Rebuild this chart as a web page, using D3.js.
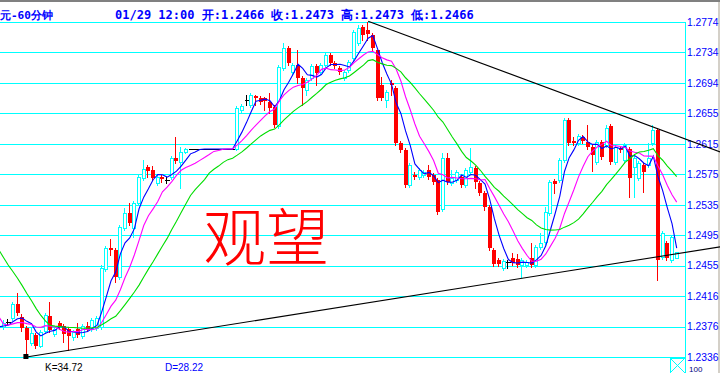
<!DOCTYPE html>
<html>
<head>
<meta charset="utf-8">
<script src="https://cdn.jsdelivr.net/npm/d3@7"></script>
<style>
body { margin: 0; background: #fff; }
svg { display: block; }
</style>
</head>
<body>
<div class="container"></div>
<script>
// 60-minute bars, oldest first (index 0 = left edge)
var opens = [
  1.2375, 1.2382, 1.2387, 1.2405, 1.2388, 1.2374, 1.2354, 1.2365, 1.2350, 1.2370,
  1.2390, 1.2366, 1.2380, 1.2377, 1.2373, 1.2362, 1.2373, 1.2363, 1.2377, 1.2373,
  1.2374, 1.2375, 1.2451, 1.2479, 1.2476, 1.2441, 1.2505, 1.2524, 1.2505, 1.2537,
  1.2570, 1.2584, 1.2580, 1.2563, 1.2571, 1.2567, 1.2571, 1.2596, 1.2591, 1.2604,
  1.2608, 1.2608, 1.2608, 1.2608, 1.2608, 1.2608, 1.2608, 1.2608, 1.2608, 1.2608,
  1.2608, 1.2659, 1.2672, 1.2665, 1.2677, 1.2675, 1.2675, 1.2669, 1.2663, 1.2638,
  1.2714, 1.2740, 1.2709, 1.2718, 1.2701, 1.2685, 1.2701, 1.2716, 1.2709, 1.2718,
  1.2731, 1.2720, 1.2714, 1.2701, 1.2711, 1.2727, 1.2747, 1.2767, 1.2764, 1.2757,
  1.2737, 1.2692, 1.2672, 1.2694, 1.2688, 1.2616, 1.2607, 1.2561, 1.2574, 1.2571,
  1.2574, 1.2580, 1.2574, 1.2567, 1.2529, 1.2596, 1.2563, 1.2567, 1.2571, 1.2561,
  1.2578, 1.2583, 1.2563, 1.2550, 1.2532, 1.2476, 1.2463, 1.2452, 1.2460, 1.2465,
  1.2464, 1.2456, 1.2456, 1.2465, 1.2456, 1.2480, 1.2486, 1.2524, 1.2566, 1.2567,
  1.2594, 1.2646, 1.2618, 1.2616, 1.2624, 1.2617, 1.2611, 1.2591, 1.2617, 1.2613,
  1.2638, 1.2591, 1.2609, 1.2594, 1.2608, 1.2584, 1.2570, 1.2587, 1.2587, 1.2616,
  1.2633, 1.2467, 1.2485, 1.2463, 1.2466
];
var highs = [
  1.2384, 1.2386, 1.2408, 1.2420, 1.2392, 1.2377, 1.2375, 1.2367, 1.2371, 1.2394,
  1.2408, 1.2375, 1.2383, 1.2379, 1.2375, 1.2371, 1.2380, 1.2379, 1.2382, 1.2387,
  1.2390, 1.2456, 1.2481, 1.2490, 1.2479, 1.2509, 1.2531, 1.2537, 1.2540, 1.2574,
  1.2594, 1.2587, 1.2586, 1.2574, 1.2574, 1.2571, 1.2599, 1.2624, 1.2611, 1.2609,
  1.2608, 1.2608, 1.2608, 1.2608, 1.2608, 1.2608, 1.2608, 1.2608, 1.2608, 1.2608,
  1.2664, 1.2667, 1.2679, 1.2681, 1.2679, 1.2677, 1.2676, 1.2681, 1.2665, 1.2718,
  1.2747, 1.2743, 1.2720, 1.2737, 1.2703, 1.2701, 1.2719, 1.2719, 1.2720, 1.2733,
  1.2733, 1.2723, 1.2716, 1.2711, 1.2724, 1.2764, 1.2770, 1.2770, 1.2774, 1.2760,
  1.2737, 1.2702, 1.2685, 1.2698, 1.2690, 1.2618, 1.2609, 1.2590, 1.2578, 1.2583,
  1.2580, 1.2587, 1.2577, 1.2570, 1.2603, 1.2603, 1.2580, 1.2580, 1.2574, 1.2583,
  1.2609, 1.2586, 1.2566, 1.2553, 1.2535, 1.2479, 1.2465, 1.2464, 1.2463, 1.2472,
  1.2471, 1.2465, 1.2463, 1.2485, 1.2482, 1.2498, 1.2532, 1.2567, 1.2569, 1.2596,
  1.2648, 1.2648, 1.2624, 1.2628, 1.2626, 1.2639, 1.2613, 1.2620, 1.2620, 1.2639,
  1.2641, 1.2613, 1.2612, 1.2616, 1.2611, 1.2599, 1.2592, 1.2590, 1.2616, 1.2639,
  1.2635, 1.2501, 1.2488, 1.2496, 1.2473
];
var lows = [
  1.2373, 1.2378, 1.2384, 1.2391, 1.2370, 1.2337, 1.2352, 1.2348, 1.2349, 1.2367,
  1.2369, 1.2363, 1.2373, 1.2356, 1.2345, 1.2358, 1.2362, 1.2361, 1.2370, 1.2370,
  1.2371, 1.2373, 1.2448, 1.2469, 1.2434, 1.2438, 1.2502, 1.2509, 1.2493, 1.2535,
  1.2567, 1.2571, 1.2567, 1.2561, 1.2565, 1.2563, 1.2569, 1.2590, 1.2557, 1.2603,
  1.2608, 1.2608, 1.2608, 1.2608, 1.2608, 1.2608, 1.2608, 1.2608, 1.2608, 1.2608,
  1.2607, 1.2656, 1.2665, 1.2663, 1.2665, 1.2667, 1.2659, 1.2655, 1.2637, 1.2635,
  1.2711, 1.2718, 1.2706, 1.2694, 1.2665, 1.2679, 1.2698, 1.2692, 1.2706, 1.2715,
  1.2718, 1.2714, 1.2706, 1.2698, 1.2709, 1.2724, 1.2744, 1.2750, 1.2750, 1.2737,
  1.2672, 1.2672, 1.2663, 1.2679, 1.2613, 1.2604, 1.2558, 1.2558, 1.2569, 1.2569,
  1.2571, 1.2569, 1.2562, 1.2523, 1.2527, 1.2562, 1.2561, 1.2565, 1.2558, 1.2558,
  1.2575, 1.2557, 1.2548, 1.2528, 1.2476, 1.2455, 1.2455, 1.2450, 1.2452, 1.2456,
  1.2454, 1.2441, 1.2454, 1.2454, 1.2454, 1.2477, 1.2484, 1.2522, 1.2550, 1.2565,
  1.2591, 1.2613, 1.2613, 1.2613, 1.2616, 1.2608, 1.2579, 1.2588, 1.2595, 1.2611,
  1.2588, 1.2588, 1.2604, 1.2591, 1.2545, 1.2545, 1.2567, 1.2552, 1.2584, 1.2613,
  1.2437, 1.2464, 1.2463, 1.2460, 1.2466
];
var closes = [
  1.2380, 1.2382, 1.2405, 1.2394, 1.2374, 1.2358, 1.2367, 1.2350, 1.2369, 1.2391,
  1.2371, 1.2373, 1.2375, 1.2366, 1.2363, 1.2369, 1.2365, 1.2377, 1.2373, 1.2384,
  1.2387, 1.2452, 1.2479, 1.2476, 1.2441, 1.2506, 1.2524, 1.2511, 1.2537, 1.2571,
  1.2582, 1.2579, 1.2570, 1.2571, 1.2569, 1.2567, 1.2596, 1.2592, 1.2604, 1.2608,
  1.2608, 1.2608, 1.2608, 1.2608, 1.2608, 1.2608, 1.2608, 1.2608, 1.2608, 1.2608,
  1.2662, 1.2664, 1.2672, 1.2679, 1.2675, 1.2669, 1.2671, 1.2662, 1.2639, 1.2715,
  1.2740, 1.2720, 1.2718, 1.2701, 1.2688, 1.2698, 1.2716, 1.2707, 1.2718, 1.2731,
  1.2720, 1.2716, 1.2709, 1.2709, 1.2722, 1.2761, 1.2766, 1.2757, 1.2758, 1.2740,
  1.2675, 1.2675, 1.2682, 1.2692, 1.2616, 1.2607, 1.2561, 1.2587, 1.2571, 1.2580,
  1.2578, 1.2571, 1.2565, 1.2526, 1.2596, 1.2565, 1.2570, 1.2578, 1.2561, 1.2580,
  1.2584, 1.2565, 1.2550, 1.2532, 1.2479, 1.2458, 1.2458, 1.2462, 1.2460, 1.2459,
  1.2456, 1.2463, 1.2460, 1.2456, 1.2480, 1.2485, 1.2526, 1.2565, 1.2562, 1.2594,
  1.2646, 1.2616, 1.2616, 1.2625, 1.2618, 1.2611, 1.2600, 1.2617, 1.2597, 1.2635,
  1.2591, 1.2611, 1.2607, 1.2613, 1.2570, 1.2596, 1.2590, 1.2578, 1.2596, 1.2633,
  1.2463, 1.2498, 1.2465, 1.2493, 1.2473
];
// closes of the 20 bars before the visible window (only feed the moving averages)
var closesBefore = [
  1.2580, 1.2578, 1.2574, 1.2570, 1.2567, 1.2563, 1.2560, 1.2554, 1.2548, 1.2541,
  1.2476, 1.2397, 1.2387, 1.2378, 1.2371, 1.2374, 1.2378, 1.2382, 1.2374, 1.2369
];

var tickValues = [1.2774, 1.27342, 1.26944, 1.26545, 1.26147, 1.25749, 1.25351, 1.24953, 1.24555, 1.24156, 1.23758, 1.2336];
var tickLabels = ['1.2774', '1.2734', '1.2694', '1.2655', '1.2615', '1.2575', '1.2535', '1.2495', '1.2455', '1.2416', '1.2376', '1.2336'];

var maPeriods = [5, 10, 20];
var maColors = ['#0000ff', '#ff00ff', '#00dd00'];

// hand-drawn trend lines: [bar index, price]
var trendUpper = [[78, 1.2775], [153.3, 1.2604]];
var trendLower = [[4.9, 1.2336], [153.3, 1.2480]];

var titleLeft = '元-60分钟';
var titleInfo = '01/29 12:00 开:1.2466 收:1.2473 高:1.2473 低:1.2466';
var bigText = '观望';

var loadChart = function () {
    const WIDTH = 720;
    const HEIGHT = 373;
    const AXIS_X = 685;

    var svg = d3.select('.container').append('svg')
        .attr('width', WIDTH)
        .attr('height', HEIGHT)
        .style('background', '#fff');

    // window frame strip on the right (under the labels)
    svg.append('rect').attr('x', 718).attr('y', 0).attr('width', 2).attr('height', HEIGHT).attr('fill', '#d4d0c8');

    var xScale = d3.scaleLinear().domain([0, closes.length - 1]).range([3.5, 676.7]);
    var yScale = d3.scaleLinear().domain([1.2336, 1.2774]).range([357, 22]);

    // grid
    var grid = svg.append('g')
        .attr('transform', 'translate(' + AXIS_X + ',0)')
        .call(d3.axisLeft(yScale).tickValues(tickValues).tickSize(AXIS_X + 1).tickFormat(''));
    grid.select('.domain').remove();
    grid.selectAll('line')
        .attr('stroke', '#00ffff')
        .attr('shape-rendering', 'crispEdges');

    svg.append('line')
        .attr('x1', AXIS_X + 0.5).attr('x2', AXIS_X + 0.5)
        .attr('y1', 22).attr('y2', HEIGHT)
        .attr('stroke', '#00ffff');

    // price labels
    var axis = svg.append('g')
        .attr('transform', 'translate(' + AXIS_X + ',0)')
        .call(d3.axisRight(yScale).tickValues(tickValues).tickSize(0).tickPadding(2)
            .tickFormat(function (d, i) { return tickLabels[i]; }));
    axis.select('.domain').remove();
    axis.selectAll('text')
        .attr('fill', '#0000ff')
        .style('font-family', '"Liberation Sans", Arial, sans-serif')
        .style('font-size', '10.3px');

    // candles
    var bars = d3.range(closes.length).map(function (i) {
        return { i: i, o: opens[i], h: highs[i], l: lows[i], c: closes[i] };
    });
    var gCandles = svg.append('g').attr('shape-rendering', 'crispEdges');
    bars.forEach(function (d) {
        var cx = Math.round(xScale(d.i));
        var yH = Math.round(yScale(d.h)), yL = Math.round(yScale(d.l));
        var yO = Math.round(yScale(d.o)), yC = Math.round(yScale(d.c));
        var wx = cx - 0.5;
        if (d.c > d.o) {
            gCandles.append('line').attr('x1', wx).attr('x2', wx).attr('y1', yH).attr('y2', yC)
                .attr('stroke', '#00ffff');
            gCandles.append('line').attr('x1', wx).attr('x2', wx).attr('y1', yO).attr('y2', yL + 1)
                .attr('stroke', '#00ffff');
            gCandles.append('rect')
                .attr('x', cx - 1.5).attr('y', yC + 0.5)
                .attr('width', 3).attr('height', Math.max(yO - yC, 1))
                .attr('fill', '#fff').attr('stroke', '#00ffff');
        } else if (d.c < d.o) {
            gCandles.append('line').attr('x1', wx).attr('x2', wx).attr('y1', yH).attr('y2', yL + 1)
                .attr('stroke', '#ff0000');
            gCandles.append('rect')
                .attr('x', cx - 2).attr('y', yO)
                .attr('width', 4).attr('height', Math.max(yC - yO, 1))
                .attr('fill', '#ff0000');
        } else {
            gCandles.append('line').attr('x1', wx).attr('x2', wx).attr('y1', yH).attr('y2', yL + 1)
                .attr('stroke', '#000');
            gCandles.append('line').attr('x1', cx - 2).attr('x2', cx + 3).attr('y1', yO + 0.5).attr('y2', yO + 0.5)
                .attr('stroke', '#000');
        }
    });

    // moving averages
    var allCloses = closesBefore.concat(closes);
    var offset = closesBefore.length;
    maPeriods.forEach(function (n, k) {
        var pts = d3.range(-1, closes.length).map(function (i) {
            var idx = i + offset;
            return { i: i, v: d3.mean(allCloses.slice(idx - n + 1, idx + 1)) };
        });
        svg.append('path')
            .datum(pts)
            .attr('d', d3.line().x(function (d) { return xScale(d.i); }).y(function (d) { return yScale(d.v); }))
            .attr('fill', 'none')
            .attr('stroke', maColors[k])
            .attr('stroke-width', 1.1);
    });

    // trend lines
    var trendLine = d3.line()
        .x(function (d) { return xScale(d[0]); })
        .y(function (d) { return yScale(d[1]); });
    [trendUpper, trendLower].forEach(function (t) {
        svg.append('path').datum(t).attr('d', trendLine)
            .attr('fill', 'none').attr('stroke', '#000').attr('stroke-width', 1.1);
    });
    svg.append('rect')
        .attr('x', xScale(trendLower[0][0]) - 3).attr('y', yScale(trendLower[0][1]) - 3)
        .attr('width', 5).attr('height', 5).attr('fill', '#000');

    // big annotation
    svg.append('text')
        .attr('x', 203).attr('y', 260)
        .attr('fill', '#ff0000')
        .style('font-family', '"Noto Sans CJK SC", sans-serif')
        .style('font-weight', 200)
        .style('font-size', '63px')
        .text(bigText);

    // title
    svg.append('text')
        .attr('x', 0).attr('y', 19)
        .attr('fill', '#0000ff')
        .style('font-family', '"DejaVu Sans Mono", monospace')
        .style('font-weight', 'bold').style('font-size', '11px')
        .text(titleLeft);
    svg.append('text')
        .attr('x', 115).attr('y', 19)
        .attr('fill', '#0000ff')
        .attr('xml:space', 'preserve')
        .style('font-family', '"DejaVu Sans Mono", monospace')
        .style('font-weight', 'bold').style('font-size', '12px')
        .text(titleInfo);

    // indicator readout
    svg.append('text').attr('x', 45).attr('y', 371).attr('fill', '#000')
        .style('font-family', '"Liberation Sans", Arial, sans-serif').style('font-size', '10px')
        .text('K=34.72');
    svg.append('text').attr('x', 165).attr('y', 371).attr('fill', '#0000ff')
        .style('font-family', '"Liberation Sans", Arial, sans-serif').style('font-size', '10px')
        .text('D=28.22');
    svg.append('text').attr('x', 689).attr('y', 372).attr('fill', '#000080')
        .style('font-family', '"Liberation Sans", Arial, sans-serif').style('font-size', '8px')
        .text('100');

    // scroll box at the axis corner
    var bx = AXIS_X - 15, by = 358;
    svg.append('rect').attr('x', bx + 0.5).attr('y', by + 0.5).attr('width', 15).attr('height', 15)
        .attr('fill', 'none').attr('stroke', '#00ffff');
    svg.append('path').attr('d', 'M' + bx + ',' + by + 'L' + (bx + 15) + ',' + (by + 15) + 'M' + (bx + 15) + ',' + by + 'L' + bx + ',' + (by + 15))
        .attr('stroke', '#00ffff').attr('fill', 'none');

    // window frame top
    svg.append('rect').attr('x', 0).attr('y', 0).attr('width', WIDTH).attr('height', 2).attr('fill', '#808080');
};

window.onload = loadChart;
</script>
</body>
</html>
